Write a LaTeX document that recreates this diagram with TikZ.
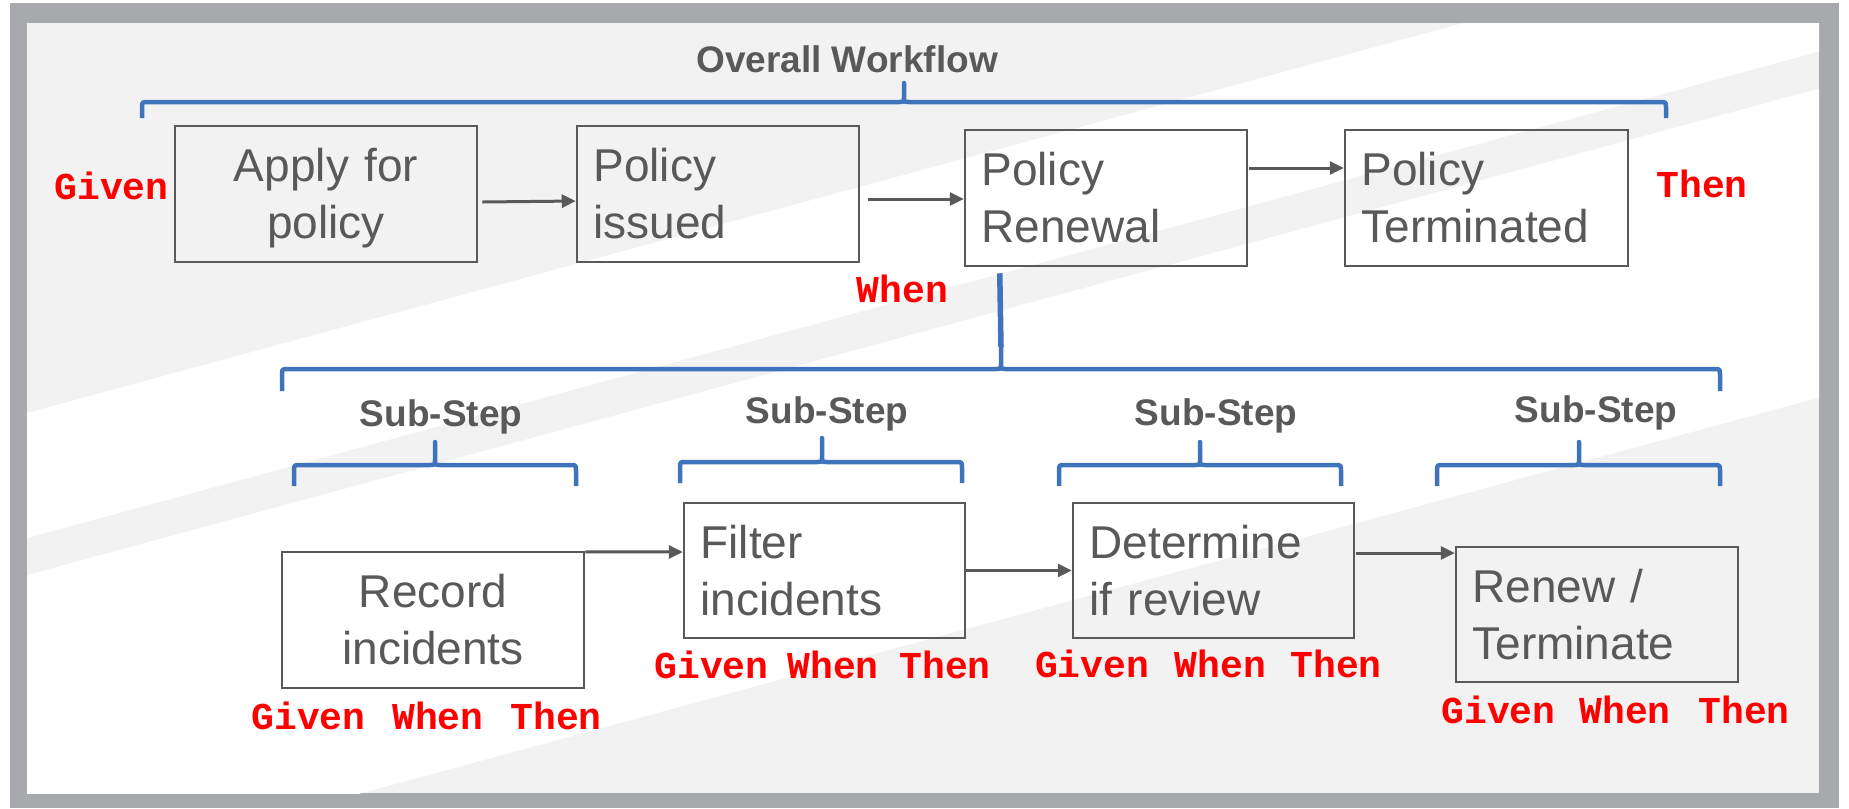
\documentclass[tikz,border=0pt]{standalone}
\usepackage{fontspec}
\setmainfont{Liberation Sans}
\newfontfamily\gwtfont{Liberation Mono}
\usetikzlibrary{arrows.meta,calc}

\newdimen\pxu \pxu=0.01cm

\definecolor{framegray}{HTML}{A7A9AC}
\definecolor{bggray}{HTML}{F2F2F2}
\definecolor{txtgray}{HTML}{595959}
\definecolor{bracebl}{HTML}{3F74BC}
\definecolor{gwtred}{HTML}{FF0000}

\newcommand\boxfont{\fontsize{46\pxu}{57\pxu}\selectfont}
\newcommand\headfont{\fontsize{37\pxu}{44\pxu}\selectfont\bfseries}
\newcommand\gwtsize{\fontsize{38\pxu}{44\pxu}\selectfont\gwtfont\bfseries}

% curly brace opening downwards: left x, right x, tip x, bar y, end y, tip y
\newcommand\curlybrace[6]{%
  \draw[brace] (#1,#5) -- (#1,#4+6) .. controls (#1,#4) .. (#1+6,#4)
    -- (#3-5,#4) .. controls (#3,#4) .. (#3,#4-5) -- (#3,#6)
    -- (#3,#4-5) .. controls (#3,#4) .. (#3+5,#4)
    -- (#2-6,#4) .. controls (#2,#4) .. (#2,#4+6) -- (#2,#5);}

\tikzset{
  stepbox/.style={draw=txtgray, line width=2.5\pxu, inner xsep=16.5\pxu,
    inner ysep=0pt, text height=0pt, text depth=25\pxu, font=\boxfont,
    text=txtgray, align=left},
  midbox/.style={stepbox, align=center},
  arr/.style={draw=txtgray, line width=3\pxu,
    -{Triangle[length=3.98pt, width=3.7pt]}},
  brace/.style={draw=bracebl, line width=4.5\pxu, line join=round},
  stem/.style={draw=bracebl, line width=5.5\pxu},
  head/.style={font=\headfont, text=txtgray, anchor=base, inner sep=0pt},
  gwt/.style={font=\gwtsize, text=gwtred, anchor=base, inner sep=0pt},
}

\begin{document}
\begin{tikzpicture}[x=0.01cm, y=-0.01cm]
\useasboundingbox (0,0) rectangle (1849,808);

% frame and striped backdrop
\fill[white] (0,0) rectangle (1849,808);
\fill[framegray] (10,3) rectangle (1839,808);
\fill[bggray] (27,23) rectangle (1819,793);
\begin{scope}
  \clip (27,23) rectangle (1819,793);
  \fill[white] (27,413) -- (1819,-73.5) -- (1819,51.5) -- (27,538) -- cycle;
  \fill[white] (27,575) -- (1819,88.5) -- (1819,397.5) -- (27,884) -- cycle;
\end{scope}

% overall workflow
\node[head] (overall) at (847,72) {Overall Workflow};
\curlybrace{142}{1666}{904}{102}{118}{83}

\node[midbox, text width=269\pxu, minimum height=136\pxu] (apply) at (326,194) {Apply for\\policy};
\node[stepbox, text width=249\pxu, minimum height=136\pxu] (issued) at (718,194) {Policy\\issued};
\node[stepbox, text width=249\pxu, minimum height=136\pxu] (renewal) at (1106,198) {Policy\\Renewal};
\node[stepbox, text width=250\pxu, minimum height=136\pxu] (terminated) at (1486.5,198) {Policy\\Terminated};

\draw[arr] ($(apply.east)+(4,8)$) -- ($(issued.west)+(0,7)$);
\draw[arr] ($(issued.east)+(8,5)$) -- ($(renewal.west)+(0,1)$);
\draw[arr] ($(renewal.east)+(1,-30)$) -- ($(terminated.west)+(0,-30)$);

\node[gwt] (given0) at (111.5,199) {Given};
\node[gwt] (when0) at (902.5,302) {When};
\node[gwt] (then0) at (1702,197) {Then};

% sub-steps of the renewal
\coordinate (bigtip) at (1001,347);
\draw[stem] ($(renewal.south west)+(36,6)$) -- (bigtip);
\curlybrace{282}{1720}{1001}{369}{391}{347}

\node[head] (sub1) at (441,426) {Sub-Step};
\node[head] (sub2) at (827,423) {Sub-Step};
\node[head] (sub3) at (1216,425) {Sub-Step};
\node[head] (sub4) at (1596,422) {Sub-Step};

\curlybrace{294}{576}{435}{465}{486}{442}
\curlybrace{680}{962}{822}{462}{483}{438}
\curlybrace{1059}{1341}{1200}{465}{486}{442}
\curlybrace{1437}{1720}{1579}{465}{486}{442}

\node[midbox, text width=269\pxu, minimum height=136\pxu] (record) at (433,620) {Record\\incidents};
\node[stepbox, text width=248\pxu, minimum height=135\pxu] (filter) at (824.5,570.5) {Filter\\incidents};
\node[stepbox, text width=248\pxu, minimum height=135\pxu] (determine) at (1213.5,570.5) {Determine\\if review};
\node[stepbox, text width=249\pxu, minimum height=135\pxu] (renew) at (1597,614.5) {Renew /\\Terminate};

\draw[arr] ($(record.north east)+(0,1)$) -- ($(filter.west)+(0,-18.5)$);
\draw[arr] (filter.east) -- (determine.west);
\draw[arr] ($(determine.east)+(1,-17.5)$) -- ($(renew.west)+(0,-61.5)$);

\node[gwt] (given1) at (308.5,729) {Given};
\node[gwt] (when1) at (438,729) {When};
\node[gwt] (then1) at (556,729) {Then};

\node[gwt] (given2) at (711.5,678) {Given};
\node[gwt] (when2) at (833,678) {When};
\node[gwt] (then2) at (945,678) {Then};

\node[gwt] (given3) at (1092,677) {Given};
\node[gwt] (when3) at (1220.5,677) {When};
\node[gwt] (then3) at (1336,677) {Then};

\node[gwt] (given4) at (1498.5,723) {Given};
\node[gwt] (when4) at (1625,723) {When};
\node[gwt] (then4) at (1744,723) {Then};
\end{tikzpicture}
\end{document}
